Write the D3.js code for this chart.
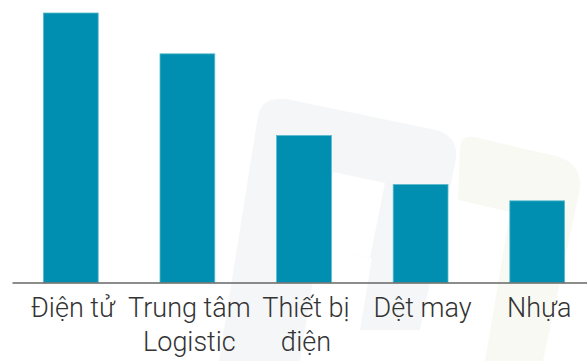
<!DOCTYPE html>
<html>
<head>
<meta charset="utf-8">
<script src="https://cdn.jsdelivr.net/npm/d3@7"></script>
<style>
  html, body { margin: 0; padding: 0; background: #fff; overflow: hidden; }
  svg { display: block; }
</style>
</head>
<body>
<svg id="chart" width="587" height="361"></svg>
<script>
// Industry categories and their values
const categories = ["Điện tử", "Trung tâm Logistic", "Thiết bị điện", "Dệt may", "Nhựa"];
const values = [33, 28, 18, 12, 10];

const W = 587, H = 361;
const svg = d3.select("#chart");

// Faint background logo
const logo = svg.append("g");
logo.append("path")
  .attr("d", "M258,116 Q261,97 286,99 L436,130 Q461,137 455,164 L420,330 L360,330 L372,258 L318,249 L300,361 L219,361 Z M333,172 L385,183 L370,258 L318,249 Z")
  .attr("fill", "#f5f6f8")
  .attr("fill-rule", "evenodd");
logo.append("path")
  .attr("d", "M460,148 Q461,134 474,137 L556,156 Q585,164 579,194 L543,361 L485,361 L510,212 L458,200 Z")
  .attr("fill", "#f9f9f4");

const x = d3.scaleBand()
  .domain(categories)
  .range([12.5, 595.5])
  .paddingInner(0.53)
  .paddingOuter(0.265);

const y = d3.scaleLinear()
  .domain([0, 33])
  .range([282.5, 13]);

// Bars
svg.append("g")
  .selectAll("rect")
  .data(values)
  .join("rect")
  .attr("x", (d, i) => x(categories[i]))
  .attr("y", d => y(d))
  .attr("width", x.bandwidth())
  .attr("height", d => y(0) - y(d))
  .attr("fill", "#008fb0")
  .attr("stroke", "#5cb9ce")
  .attr("stroke-width", 0.8);

// Category axis without ticks
const axis = svg.append("g")
  .attr("transform", `translate(0,${y(0)})`)
  .call(d3.axisBottom(x).tickSize(0).tickPadding(0));
axis.select(".domain").remove();
axis.append("line")
  .attr("x1", 12.5).attr("x2", W)
  .attr("y1", 0.5).attr("y2", 0.5)
  .attr("stroke", "#666")
  .attr("stroke-width", 1.5);

// Wrap long category names onto two lines
const maxWidth = x.step() + 12;
axis.selectAll(".tick text").each(function(label) {
  const text = d3.select(this)
    .attr("fill", "#333")
    .attr("font-family", "Roboto, sans-serif")
    .attr("font-weight", 300)
    .attr("font-size", 27)
    .attr("text-anchor", "middle")
    .attr("dy", null)
    .attr("y", 0)
    .text(null);
  const words = label.split(" ");
  const lines = [];
  let current = [];
  const probe = text.append("tspan");
  words.forEach(w => {
    const trial = current.concat([w]).join(" ");
    probe.text(trial);
    if (current.length && probe.node().getComputedTextLength() > maxWidth) {
      lines.push(current.join(" "));
      current = [w];
    } else {
      current.push(w);
    }
  });
  lines.push(current.join(" "));
  probe.remove();
  lines.forEach((ln, k) => {
    text.append("tspan")
      .attr("x", 2)
      .attr("y", 34 + k * 34.5)
      .text(ln);
  });
});
</script>
</body>
</html>
